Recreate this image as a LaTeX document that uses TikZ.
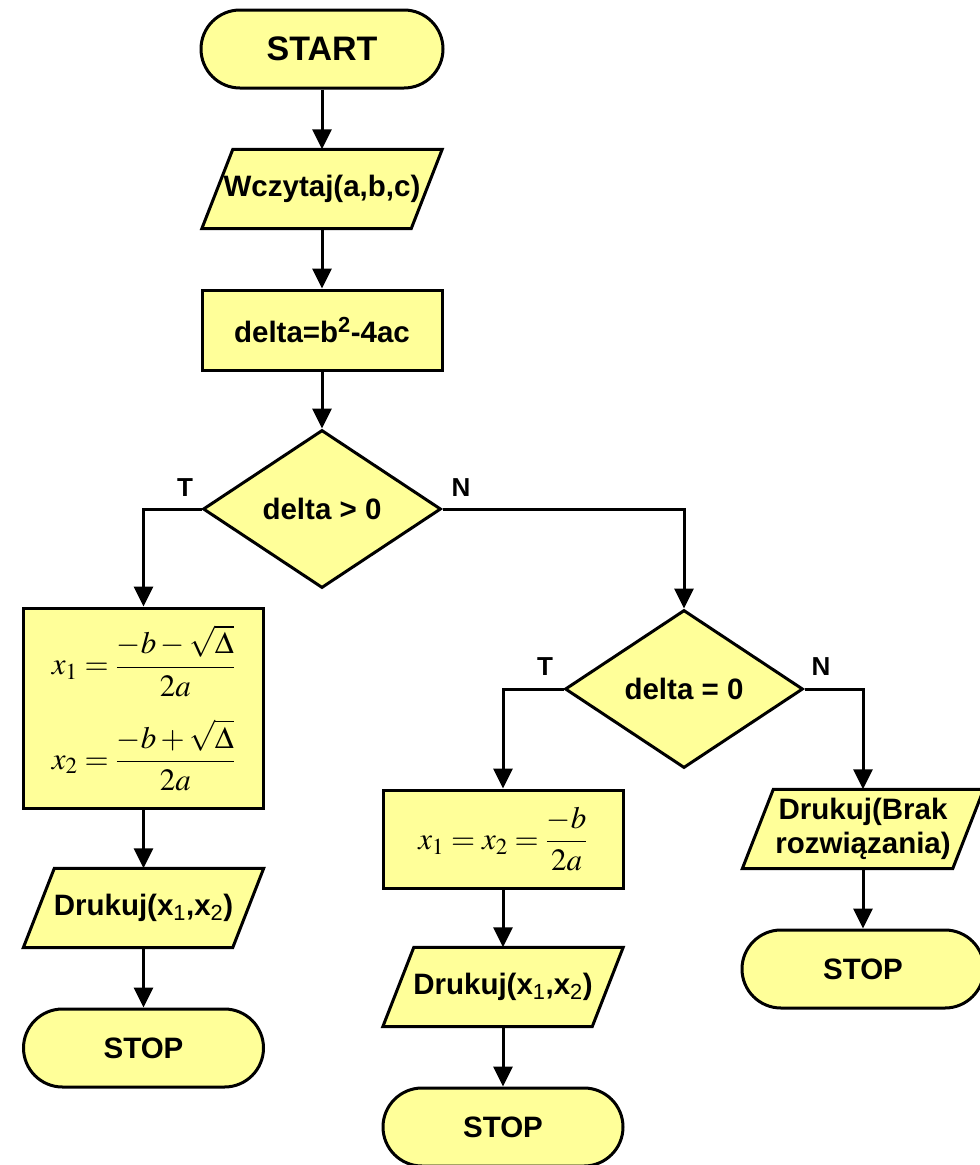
\documentclass[tikz,border=0pt]{standalone}
\usepackage{mathptmx}
\usepackage{fontspec}
\setmainfont{Liberation Sans}
\usetikzlibrary{shapes.geometric,arrows.meta,backgrounds}
\definecolor{fillyel}{RGB}{255,255,153}
\tikzset{
  base/.style={draw=black, line width=3pt, fill=fillyel, font=\fontsize{29.5}{34}\selectfont\bfseries, inner sep=0pt, align=center},
  term/.style={base, rectangle, rounded corners=39pt, minimum width=242pt, minimum height=78pt},
  iotext/.style={rectangle, inner sep=0pt, align=center, font=\fontsize{29.5}{34}\selectfont\bfseries, minimum height=79pt},
  ioshape/.style={draw=black, line width=3pt, fill=fillyel, line join=miter},
  proc/.style={base, rectangle, minimum width=240pt, minimum height=80pt},
  dec/.style={base, diamond, minimum width=238pt, minimum height=158pt},
  arr/.style={line width=3pt, -{Triangle[length=20pt,width=19pt]}},
  lab/.style={font=\fontsize{26}{30}\selectfont\bfseries, inner sep=0pt},
  mth/.style={font=\fontsize{31}{36}\selectfont\mdseries}
}
\newcommand\iobox[4]{%
  \node[iotext, minimum width=#3] (#1) at #2 {#4};
  \begin{pgfonlayer}{background}
    \draw[ioshape] ([xshift=31pt]#1.north west) -- (#1.north east)
      -- ([xshift=-31pt]#1.south east) -- (#1.south west) -- cycle;
  \end{pgfonlayer}}
\newcommand\subn[1]{\textsubscript{\mdseries #1}}
\begin{document}
\begin{tikzpicture}[x=1pt,y=-1pt]
\useasboundingbox (0,0) rectangle (980,1165);
\node[term, font=\fontsize{34}{40}\selectfont\bfseries] (start) at (322,49) {START};
\iobox{read}{(322,189)}{240pt}{Wczytaj(a,b,c)}
\node[proc] (delta) at (322,330) {delta=b\textsuperscript{2}-4ac};
\node[dec] (d1) at (322,509) {delta > 0};
\node[proc, minimum height=200pt, mth] (f1) at (143.5,708) {$\displaystyle x_1 = \frac{-b-\sqrt{\Delta}}{2a}$\\[22pt]$\displaystyle x_2 = \frac{-b+\sqrt{\Delta}}{2a}$};
\iobox{p1}{(143.5,908)}{240pt}{Drukuj(x\subn{1},x\subn{2})}
\node[term, minimum width=240pt] (s1) at (143.5,1048) {STOP};
\node[dec] (d2) at (684,689) {delta = 0};
\node[proc, minimum height=98pt, mth] (f2) at (503,839) {$\displaystyle x_1 = x_2 = \frac{-b}{2a}$};
\iobox{p2}{(503,987)}{240pt}{Drukuj(x\subn{1},x\subn{2})}
\node[term, minimum width=240pt] (s2) at (503,1127) {STOP};
\iobox{p3}{(863,829)}{241pt}{Drukuj(Brak\\rozwiązania)}
\node[term, minimum width=242pt] (s3) at (863,969) {STOP};
\node[lab] (t1) at (185,488) {T};
\node[lab] (n1) at (461,488) {N};
\node[lab] (t2) at (545,667) {T};
\node[lab] (n2) at (821,667) {N};
\draw[arr] (start.south) -- (read.north);
\draw[arr] (read.south) -- (delta.north);
\draw[arr] (delta.south) -- (d1.north);
\draw[arr] (d1.west) -| (f1.north);
\draw[arr] (d1.east) -| (d2.north);
\draw[arr] (f1.south) -- (p1.north);
\draw[arr] (p1.south) -- (s1.north);
\draw[arr] (d2.west) -| (f2.north);
\draw[arr] (d2.east) -| (p3.north);
\draw[arr] (f2.south) -- (p2.north);
\draw[arr] (p2.south) -- (s2.north);
\draw[arr] (p3.south) -- (s3.north);
\end{tikzpicture}
\end{document}
